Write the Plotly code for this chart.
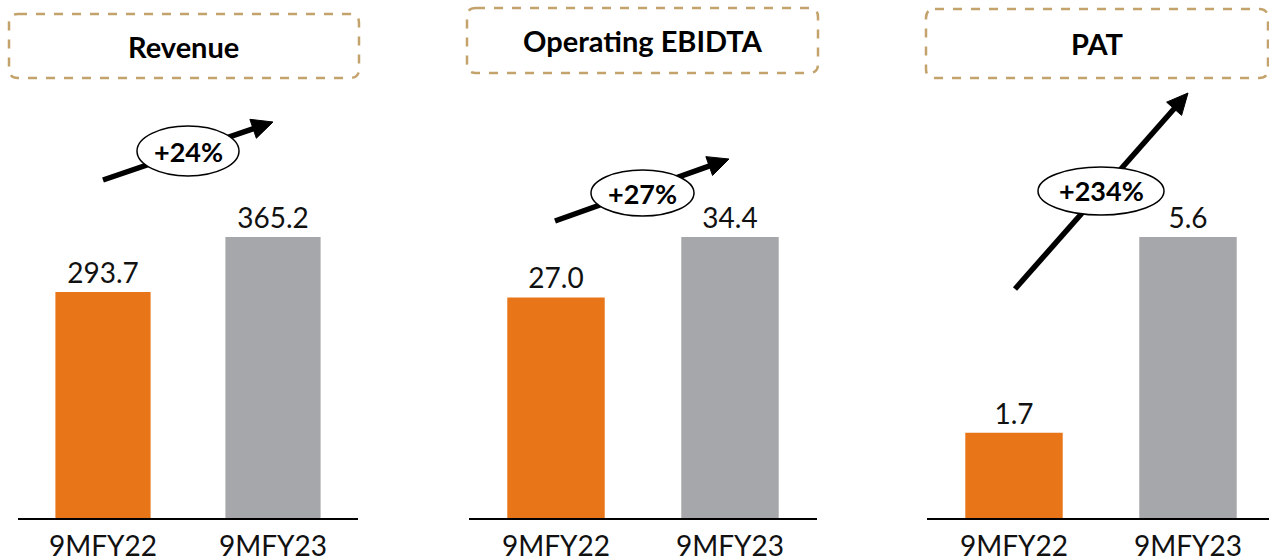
import plotly.graph_objects as go

# ---- data ----
categories = ["9MFY22", "9MFY23"]
revenue = [293.7, 365.2]
ebitda = [27.0, 34.4]
pat = [1.7, 5.6]
titles = ["Revenue", "Operating EBIDTA", "PAT"]
growth = ["+24%", "+27%", "+234%"]

series = [revenue, ebitda, pat]
bar_colors = ["#E87619", "#A6A7AA"]

W, H = 1269, 556
FONT = "Lato"

def px(x):
    return x / W

def py(y):
    return 1 - y / H

# panel geometry (pixels)
x_doms = [(18, 358), (469, 817), (927, 1269)]
x_ranges = [[-0.5, 1.5], [-0.5, 1.5], [-0.5, 1.5 - 6 / 174]]
BASE = 518
TOPBAR = 237
DOMTOP = 60

fig = go.Figure()
for i, vals in enumerate(series):
    xa = "x" if i == 0 else f"x{i+1}"
    ya = "y" if i == 0 else f"y{i+1}"
    fig.add_trace(go.Bar(
        x=categories, y=vals, xaxis=xa, yaxis=ya,
        marker=dict(color=bar_colors, line=dict(width=0)),
        texttemplate="%{y:.1f}", textposition="outside",
        textfont=dict(family=FONT, size=28, color="#111111"),
        cliponaxis=False, showlegend=False, hoverinfo="skip",
    ))
    ymax = max(vals) * (BASE - DOMTOP) / (BASE - TOPBAR)
    xkey = "xaxis" if i == 0 else f"xaxis{i+1}"
    ykey = "yaxis" if i == 0 else f"yaxis{i+1}"
    fig.update_layout(**{
        xkey: dict(domain=[px(x_doms[i][0]), px(x_doms[i][1])], anchor=ya,
                   range=x_ranges[i], showline=True, linecolor="#000000", linewidth=2,
                   showgrid=False, zeroline=False, ticks="", ticklabelstandoff=2,
                   automargin=False,
                   tickfont=dict(family=FONT, size=28, color="#111111"),
                   fixedrange=True),
        ykey: dict(domain=[py(BASE), py(DOMTOP)], anchor=xa, range=[0, ymax],
                   automargin=False,
                   visible=False, showgrid=False, zeroline=False, fixedrange=True),
    })

shapes = []
annotations = []

# dashed rounded title boxes
boxes = [(9, 14, 359, 78), (467, 8, 818, 73), (926, 9, 1268, 78)]
r = 9
for (x0, y0, x1, y1), t in zip(boxes, titles):
    path = (f"M {px(x0 + r)},{py(y0)} L {px(x1 - r)},{py(y0)} "
            f"Q {px(x1)},{py(y0)} {px(x1)},{py(y0 + r)} L {px(x1)},{py(y1 - r)} "
            f"Q {px(x1)},{py(y1)} {px(x1 - r)},{py(y1)} L {px(x0 + r)},{py(y1)} "
            f"Q {px(x0)},{py(y1)} {px(x0)},{py(y1 - r)} L {px(x0)},{py(y0 + r)} "
            f"Q {px(x0)},{py(y0)} {px(x0 + r)},{py(y0)} Z")
    shapes.append(dict(type="path", path=path, xref="paper", yref="paper",
                       line=dict(color="#C3A36B", width=2.5, dash="dash"),
                       fillcolor="rgba(0,0,0,0)", layer="above"))
    annotations.append(dict(x=px((x0 + x1) / 2), y=py((y0 + y1) / 2), xref="paper", yref="paper",
                            text=f"<b>{t}</b>", showarrow=False,
                            font=dict(family=FONT, size=29, color="#000000"),
                            xanchor="center", yanchor="middle"))

# growth arrows with ellipse labels
arrows = [((103, 180), (273, 122)), ((555, 221), (729, 159)), ((1015, 289), (1188, 93))]
ellipses = [(188, 151, 51, 25), (642.5, 193, 51.5, 23), (1101, 191, 63, 24)]
heads = []
for (s, t) in arrows:
    dx, dy = t[0] - s[0], t[1] - s[1]
    L = (dx * dx + dy * dy) ** 0.5
    ux, uy = dx / L, dy / L
    nx, ny = -uy, ux
    hl, hw = 21, 10
    bx, by = t[0] - hl * ux, t[1] - hl * uy
    shapes.append(dict(type="line", xref="paper", yref="paper",
                       x0=px(s[0]), y0=py(s[1]), x1=px(bx + 2 * ux), y1=py(by + 2 * uy),
                       line=dict(color="#000000", width=5.5), layer="above"))
    heads.append(f"M {px(t[0])},{py(t[1])} L {px(bx + hw * nx)},{py(by + hw * ny)} "
                 f"L {px(bx - hw * nx)},{py(by - hw * ny)} Z")

for (cx, cy, rx, ry), g in zip(ellipses, growth):
    shapes.append(dict(type="circle", xref="paper", yref="paper",
                       x0=px(cx - rx), x1=px(cx + rx), y0=py(cy + ry), y1=py(cy - ry),
                       fillcolor="#FFFFFF", line=dict(color="#000000", width=1.5), layer="above"))
    annotations.append(dict(x=px(cx), y=py(cy), xref="paper", yref="paper",
                            text=f"<b>{g}</b>", showarrow=False,
                            font=dict(family=FONT, size=27, color="#000000"),
                            xanchor="center", yanchor="middle"))

for hp in heads:
    shapes.append(dict(type="path", path=hp, xref="paper", yref="paper",
                       fillcolor="#000000", line=dict(color="#000000", width=1), layer="above"))

fig.update_layout(
    width=W, height=H,
    margin=dict(l=0, r=0, t=0, b=0, autoexpand=False),
    paper_bgcolor="#FFFFFF", plot_bgcolor="#FFFFFF",
    bargap=0.44,
    shapes=shapes, annotations=annotations,
    font=dict(family=FONT),
)

fig.write_html("out.html", config={"displayModeBar": False},
               post_script="document.body.style.margin='0';document.body.style.overflow='hidden';")
